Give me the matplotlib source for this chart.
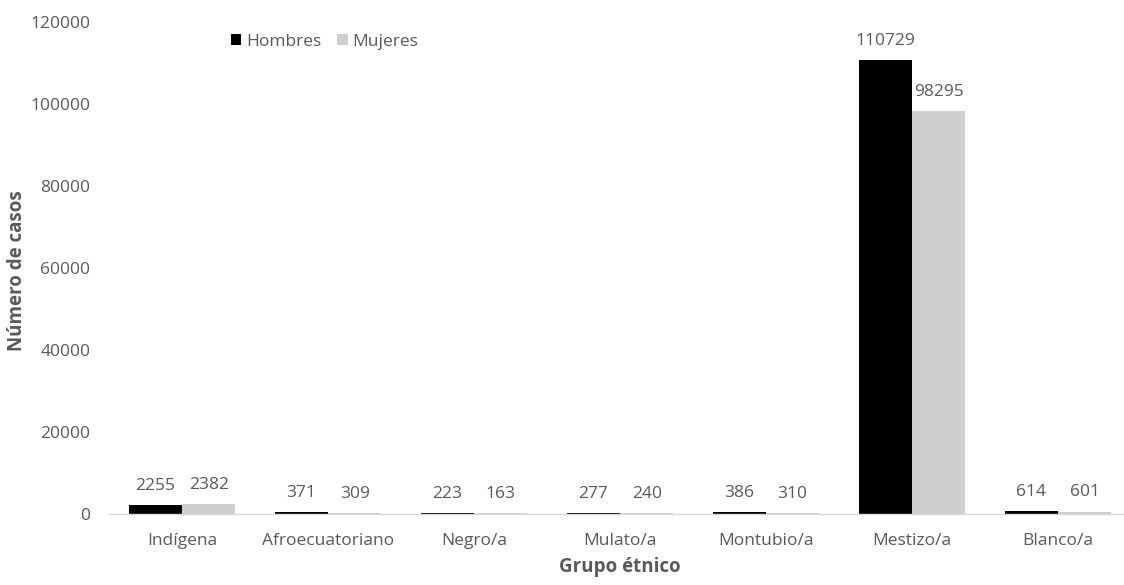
import numpy as np
import matplotlib.pyplot as plt

grupos = ['Indígena', 'Afroecuatoriano', 'Negro/a', 'Mulato/a', 'Montubio/a', 'Mestizo/a', 'Blanco/a']
hombres = [2255, 371, 223, 277, 386, 110729, 614]
mujeres = [2382, 309, 163, 240, 310, 98295, 601]

gris_texto = '#595959'
plt.rcParams['font.family'] = ['Open Sans', 'DejaVu Sans']

fig = plt.figure(figsize=(11.24, 5.85), dpi=100)
# the plot area runs a little past the right edge of the figure
ax = fig.add_axes([109/1124, 71/585, 1022/1124, 492/585])

x = np.arange(len(grupos))
w = 0.365
b1 = ax.bar(x - w/2, hombres, w, color='black', label='Hombres')
b2 = ax.bar(x + w/2, mujeres, w, color='#d0cece', label='Mujeres')

for bars in (b1, b2):
    for rect in bars:
        v = rect.get_height()
        ax.annotate(str(int(v)), (rect.get_x() + rect.get_width()/2, v),
                    xytext=(0, 8), textcoords='offset points',
                    ha='center', va='bottom', fontsize=12.5, color=gris_texto)

ax.set_xlim(-0.5, len(grupos) - 0.5)
ax.set_ylim(0, 120000)
ax.set_yticks(np.arange(0, 120001, 20000))
ax.set_xticks(x)
ax.set_xticklabels(grupos)
ax.tick_params(axis='both', length=0, labelsize=12.5, labelcolor=gris_texto)
ax.tick_params(axis='x', pad=14)
ax.tick_params(axis='y', pad=13.5)

for s in ['top', 'right', 'left']:
    ax.spines[s].set_visible(False)
ax.spines['bottom'].set_color('#d9d9d9')
ax.spines['bottom'].set_linewidth(1)

fig.text(17/1124, 1 - 271/585, 'Número de casos', rotation=90, ha='center', va='center',
         fontsize=13.5, fontweight='bold', color=gris_texto)
fig.text(620/1124, 1 - 567/585, 'Grupo étnico', ha='center', va='center',
         fontsize=13.5, fontweight='bold', color=gris_texto)

leg = fig.legend(loc='center left', bbox_to_anchor=(215/1124, 1 - 42/585), ncol=2,
                 frameon=False, handlelength=0.6, handleheight=0.6, handletextpad=0.3,
                 columnspacing=0.9, fontsize=12.5)
for t in leg.get_texts():
    t.set_color(gris_texto)

fig.savefig('out.png', dpi=100)
